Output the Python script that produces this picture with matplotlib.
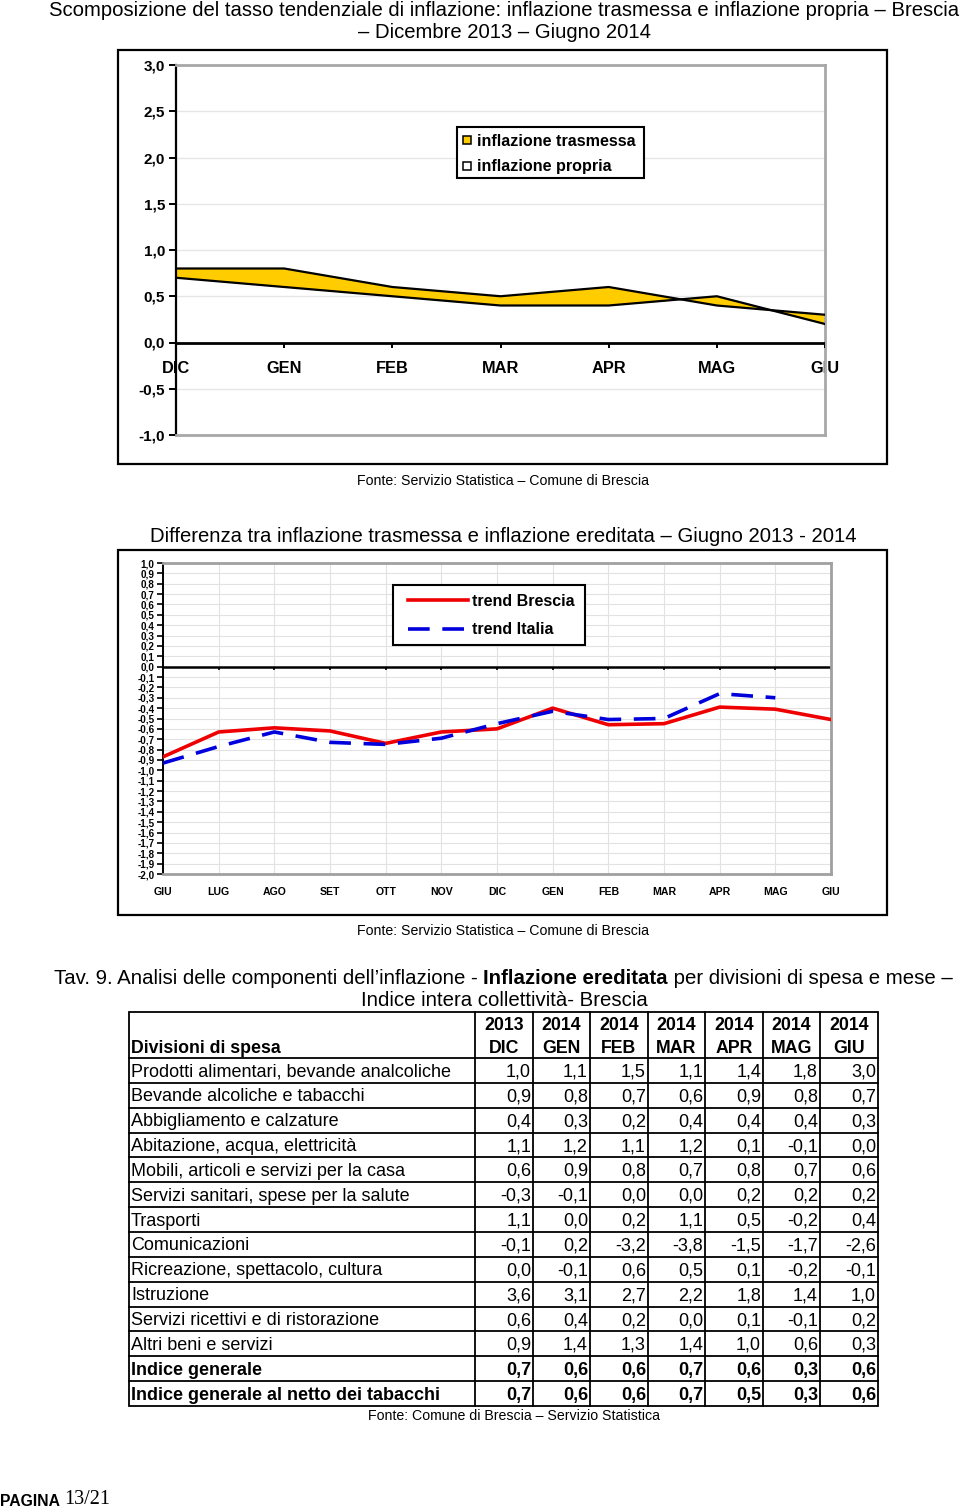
import numpy as np
import matplotlib
matplotlib.use('Agg')
import matplotlib.pyplot as plt
from matplotlib import font_manager
from matplotlib.patches import Rectangle
from matplotlib.lines import Line2D

# ---------------- data ----------------
mesi_1 = ['DIC', 'GEN', 'FEB', 'MAR', 'APR', 'MAG', 'GIU']
linea_a = [0.8, 0.8, 0.6, 0.5, 0.6, 0.4, 0.3]
linea_b = [0.7, 0.6, 0.5, 0.4, 0.4, 0.5, 0.2]

mesi_2 = ['GIU', 'LUG', 'AGO', 'SET', 'OTT', 'NOV', 'DIC', 'GEN', 'FEB', 'MAR', 'APR', 'MAG', 'GIU']
trend_brescia = [-0.87, -0.63, -0.59, -0.62, -0.74, -0.63, -0.60, -0.40, -0.56, -0.55, -0.39, -0.41, -0.51]
trend_italia = [-0.93, -0.77, -0.63, -0.73, -0.75, -0.69, -0.55, -0.43, -0.51, -0.50, -0.26, -0.30]

anni = ['2013', '2014', '2014', '2014', '2014', '2014', '2014']
mesi_tab = ['DIC', 'GEN', 'FEB', 'MAR', 'APR', 'MAG', 'GIU']
divisioni = [
    'Prodotti alimentari, bevande analcoliche',
    'Bevande alcoliche e tabacchi',
    'Abbigliamento e calzature',
    'Abitazione, acqua, elettricità',
    'Mobili, articoli e servizi per la casa',
    'Servizi sanitari, spese per la salute',
    'Trasporti',
    'Comunicazioni',
    'Ricreazione, spettacolo, cultura',
    'Istruzione',
    'Servizi ricettivi e di ristorazione',
    'Altri beni e servizi',
    'Indice generale',
    'Indice generale al netto dei tabacchi',
]
valori = [
    [1.0, 1.1, 1.5, 1.1, 1.4, 1.8, 3.0],
    [0.9, 0.8, 0.7, 0.6, 0.9, 0.8, 0.7],
    [0.4, 0.3, 0.2, 0.4, 0.4, 0.4, 0.3],
    [1.1, 1.2, 1.1, 1.2, 0.1, -0.1, 0.0],
    [0.6, 0.9, 0.8, 0.7, 0.8, 0.7, 0.6],
    [-0.3, -0.1, 0.0, 0.0, 0.2, 0.2, 0.2],
    [1.1, 0.0, 0.2, 1.1, 0.5, -0.2, 0.4],
    [-0.1, 0.2, -3.2, -3.8, -1.5, -1.7, -2.6],
    [0.0, -0.1, 0.6, 0.5, 0.1, -0.2, -0.1],
    [3.6, 3.1, 2.7, 2.2, 1.8, 1.4, 1.0],
    [0.6, 0.4, 0.2, 0.0, 0.1, -0.1, 0.2],
    [0.9, 1.4, 1.3, 1.4, 1.0, 0.6, 0.3],
    [0.7, 0.6, 0.6, 0.7, 0.6, 0.3, 0.6],
    [0.7, 0.6, 0.6, 0.7, 0.5, 0.3, 0.6],
]
righe_bold = [12, 13]

# ---------------- fonts ----------------
names = {f.name for f in font_manager.fontManager.ttflist}
SANS = 'Liberation Sans'
NARROW = 'Liberation Sans Narrow' if 'Liberation Sans Narrow' in names else 'Liberation Sans'
plt.rcParams['font.family'] = [SANS, 'DejaVu Sans']


def fmt(v):
    return f'{v:.1f}'.replace('.', ',').replace('-0,0', '0,0')


W, H = 960, 1510
fig = plt.figure(figsize=(W / 100, H / 100), dpi=100)
bg = fig.add_axes([0, 0, 1, 1])
bg.set_xlim(0, W)
bg.set_ylim(H, 0)
bg.axis('off')


def rect(l, t, r, b):
    return [l / W, 1 - b / H, (r - l) / W, (b - t) / H]


TS = 14.6
# ---------------- titles ----------------
bg.text(504, 10, 'Scomposizione del tasso tendenziale di inflazione: inflazione trasmessa e inflazione propria – Brescia',
        ha='center', va='center', fontsize=TS)
bg.text(504, 33, '– Dicembre 2013 – Giugno 2014', ha='center', va='center', fontsize=TS)

# frames
bg.add_patch(Rectangle((118, 50), 769, 414, fill=False, lw=1.6, ec='black'))
bg.add_patch(Rectangle((118, 550), 769, 365, fill=False, lw=1.6, ec='black'))

bg.text(503, 481, 'Fonte: Servizio Statistica – Comune di Brescia', ha='center', va='center', fontsize=10.2)
bg.text(503, 536, 'Differenza tra inflazione trasmessa e inflazione ereditata – Giugno 2013 - 2014',
        ha='center', va='center', fontsize=TS)
bg.text(503, 931, 'Fonte: Servizio Statistica – Comune di Brescia', ha='center', va='center', fontsize=10.2)

# ---------------- chart 1 ----------------
ax1 = fig.add_axes(rect(176, 65, 825, 435))
x1 = np.arange(len(mesi_1))
ax1.fill_between(x1, linea_a, linea_b, color='#FFCC00', lw=0, interpolate=True, zorder=2)
ax1.plot(x1, linea_a, color='black', lw=1.6, zorder=3)
ax1.plot(x1, linea_b, color='black', lw=1.6, zorder=3)
ax1.set_xlim(0, len(mesi_1) - 1)
ax1.set_ylim(-1, 3)
yt1 = np.arange(-1.0, 3.01, 0.5)
ax1.set_yticks(yt1)
ax1.set_yticklabels([fmt(v) for v in yt1], fontweight='bold', fontsize=11)
ax1.tick_params(axis='y', length=5, width=1.4, direction='out', pad=3)
ax1.set_xticks([])
ax1.yaxis.grid(True, color='#e6e6e6', lw=1)
ax1.set_axisbelow(True)
for s in ['top', 'right', 'bottom']:
    ax1.spines[s].set_color('#a8a8a8')
    ax1.spines[s].set_linewidth(2)
ax1.spines['left'].set_color('black')
ax1.spines['left'].set_linewidth(1.6)
ax1.axhline(0, color='black', lw=2, zorder=4)
ax1.vlines(x1, -0.06, 0, color='black', lw=1.4, zorder=4)
for i, m in enumerate(mesi_1):
    ax1.annotate(m, (i, 0), xytext=(0, -18.5), textcoords='offset points', ha='center', va='center',
                 fontweight='bold', fontsize=11.8, annotation_clip=False, zorder=1)

# ---------------- chart 2 ----------------
ax2 = fig.add_axes(rect(163, 563, 831, 874))
x2 = np.arange(len(mesi_2))
ax2.set_xlim(0, len(mesi_2) - 1)
ax2.set_ylim(-2, 1)
yt2 = np.round(np.arange(-2.0, 1.001, 0.1), 1)
ax2.set_yticks(yt2)
ax2.set_yticklabels([fmt(v) for v in yt2], fontweight='bold', fontsize=7.1, family=[NARROW, SANS])
ax2.tick_params(axis='y', length=4, width=1.2, direction='out', pad=2)
ax2.set_xticks(x2)
ax2.set_xticklabels(mesi_2, fontweight='bold', fontsize=7.6, family=[NARROW, SANS])
ax2.tick_params(axis='x', length=0, pad=9)
ax2.grid(True, color='#e2e2e2', lw=0.8)
ax2.set_axisbelow(True)
for s in ['top', 'right', 'bottom']:
    ax2.spines[s].set_color('#a0a0a0')
    ax2.spines[s].set_linewidth(2)
ax2.spines['left'].set_color('black')
ax2.spines['left'].set_linewidth(1.4)
ax2.axhline(0, color='black', lw=1.8, zorder=2)
ax2.vlines(x2, -0.035, 0, color='black', lw=1.2, zorder=2)
ax2.plot(x2, trend_brescia, color='#ee0000', lw=2.6, zorder=3)
ax2.plot(np.arange(len(trend_italia)), trend_italia, color='#0000dd', lw=2.6, dashes=(6, 3.5), zorder=4)

# ---------------- legends (overlay) ----------------
fg = fig.add_axes([0, 0, 1, 1])
fg.set_xlim(0, W)
fg.set_ylim(H, 0)
fg.axis('off')
fg.patch.set_alpha(0)

fg.add_patch(Rectangle((457, 127), 187, 51, fc='white', ec='black', lw=1.5))
fg.add_patch(Rectangle((463, 136), 8, 8, fc='#FFCC00', ec='black', lw=1.1))
fg.add_patch(Rectangle((463, 162), 8, 8, fc='white', ec='black', lw=1.1))
fg.text(477, 141, 'inflazione trasmessa', ha='left', va='center', fontsize=11.6, fontweight='bold')
fg.text(477, 167, 'inflazione propria', ha='left', va='center', fontsize=11.6, fontweight='bold')

fg.add_patch(Rectangle((393, 585), 192, 60, fc='white', ec='black', lw=1.5))
fg.add_line(Line2D([408, 468], [600, 600], color='#ee0000', lw=2.6))
fg.add_line(Line2D([408, 468], [629, 629], color='#0000dd', lw=2.6, dashes=(6, 3.5)))
fg.text(472, 601, 'trend Brescia', ha='left', va='center', fontsize=11.5, fontweight='bold')
fg.text(472, 630, 'trend Italia', ha='left', va='center', fontsize=11.5, fontweight='bold')

# ---------------- table title ----------------
TT = 14.7
t1 = bg.text(54, 979, 'Tav. 9. Analisi delle componenti dell’inflazione - ', ha='left', va='center', fontsize=TT)
t2 = bg.annotate('Inflazione ereditata', xy=(1, 0), xycoords=t1, ha='left', va='bottom',
                 fontsize=TT, fontweight='bold')
bg.annotate(' per divisioni di spesa e mese –', xy=(1, 0), xycoords=t2, ha='left', va='bottom', fontsize=TT)
bg.text(504, 1001, 'Indice intera collettività- Brescia', ha='center', va='center', fontsize=TT)

# ---------------- table ----------------
col_x = [129, 475, 533, 590, 648, 705, 763, 820, 878]
top, head_bot, bottom = 1012, 1058, 1406
n = len(divisioni)
row_h = (bottom - head_bot) / n
lw_t = 1.3
bg.add_patch(Rectangle((col_x[0], top), col_x[-1] - col_x[0], bottom - top, fill=False, ec='black', lw=lw_t))
for cx in col_x[1:-1]:
    bg.plot([cx, cx], [top, bottom], color='black', lw=lw_t)
for k in range(n):
    y = head_bot + k * row_h
    bg.plot([col_x[0], col_x[-1]], [y, y], color='black', lw=lw_t)

for j in range(7):
    xc = (col_x[j + 1] + col_x[j + 2]) / 2
    bg.text(xc, 1026, anni[j], ha='center', va='center', fontsize=12.8, fontweight='bold')
    bg.text(xc, 1048.5, mesi_tab[j], ha='center', va='center', fontsize=12.8, fontweight='bold')
bg.text(131, 1048.5, 'Divisioni di spesa', ha='left', va='center', fontsize=12.8, fontweight='bold')

for i, (lab, vals) in enumerate(zip(divisioni, valori)):
    yc = head_bot + (i + 0.5) * row_h + 1.5
    fw = 'bold' if i in righe_bold else 'normal'
    bg.text(131, yc, lab, ha='left', va='center', fontsize=13, fontweight=fw, family=[NARROW, SANS])
    for j, v in enumerate(vals):
        bg.text(col_x[j + 2] - 2, yc, fmt(v), ha='right', va='center', fontsize=13, fontweight=fw,
                family=[NARROW, SANS])

bg.text(514, 1416, 'Fonte: Comune di Brescia – Servizio Statistica', ha='center', va='center', fontsize=10.2,
        family=[NARROW, SANS])

# ---------------- footer ----------------
pg = bg.text(0, 1502, 'PAGINA ', ha='left', va='center', fontsize=11.3, fontweight='bold')
bg.annotate('13/21', xy=(1, 0), xycoords=pg, ha='left', va='bottom', fontsize=14.5,
            family=['Liberation Serif', 'DejaVu Serif'])

fig.savefig('out.png', dpi=100)
